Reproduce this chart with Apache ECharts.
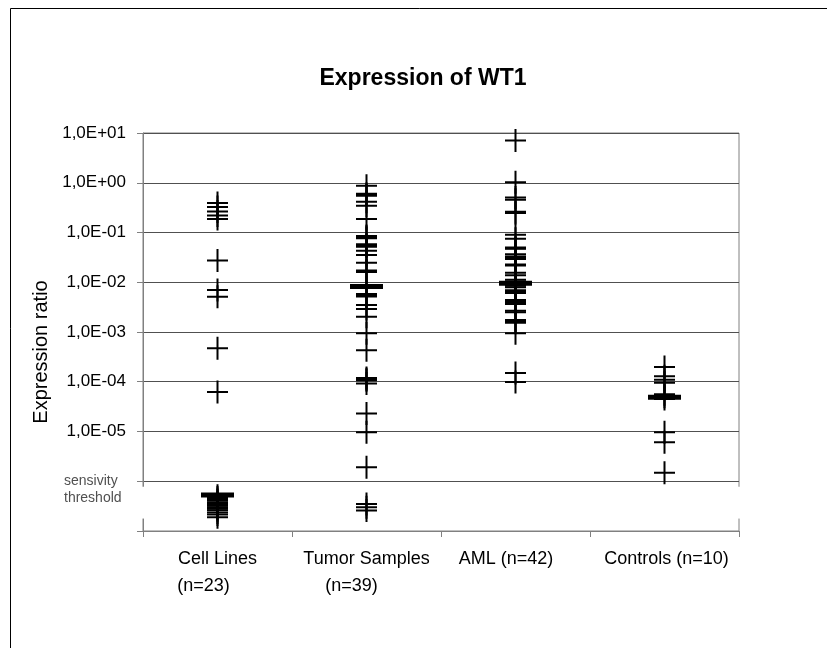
<!DOCTYPE html>
<html>
<head>
<meta charset="utf-8">
<title>Expression of WT1</title>
<script src="https://cdn.jsdelivr.net/npm/echarts@6/dist/echarts.min.js"></script>
<style>
  html, body { margin: 0; padding: 0; background: #fff; }
  #chart { width: 827px; height: 648px; }
</style>
</head>
<body>
<div id="chart"></div>
<script>
const categories = ["Cell Lines", "Tumor Samples", "AML", "Controls"];
const sampleCounts = [23, 39, 42, 10];

// values (expression ratio)
const cellLines = [
  0.39, 0.325, 0.265, 0.22, 0.186, 0.0273, 0.0070, 0.0051, 4.7e-4, 6.2e-5,
  5.1e-7, 4.7e-7, 4.4e-7, 4.1e-7, 3.8e-7, 3.5e-7, 3.2e-7, 3.0e-7, 2.8e-7,
  2.6e-7, 2.35e-7, 2.15e-7, 1.9e-7
];
const tumorSamples = [
  0.875, 0.60, 0.57, 0.55, 0.416, 0.345, 0.186, 0.085, 0.081, 0.077,
  0.058, 0.055, 0.052, 0.0428, 0.0355, 0.0248, 0.0172, 0.0166, 0.016, 0.0086,
  0.0079, 0.0058, 0.0055, 0.0052, 0.00348, 0.0029, 0.00202, 9.4e-4, 4.3e-4, 1.19e-4,
  1.12e-4, 1.07e-4, 9.2e-5, 2.29e-5, 9.7e-6, 1.91e-6, 3.5e-7, 3.0e-7, 2.57e-7
];
const aml = [
  7.06, 1.02, 0.506, 0.456, 0.26, 0.248, 0.09, 0.0746, 0.05, 0.0484,
  0.047, 0.0366, 0.0328, 0.031, 0.0295, 0.0228, 0.0223, 0.0218, 0.0156, 0.0138,
  0.0112, 0.0103, 0.0098, 0.0093, 0.0089, 0.0085, 0.0079, 0.0069, 0.0067, 0.0065,
  0.0061, 0.0044, 0.0040, 0.00365, 0.00267, 0.0025, 0.00174, 0.00162, 0.00153, 9.4e-4,
  1.5e-4, 9.9e-5
];
const controls = [1.99e-4, 1.29e-4, 1.1e-4, 9.5e-5, 5.6e-5, 5.0e-5, 4.5e-5, 9.7e-6, 6.1e-6, 1.48e-6];
const medians = [5.3e-7, 0.0082, 0.0096, 4.9e-5];

const groups = [cellLines, tumorSamples, aml, controls];

// plus marker, 21 x 23 px with 2 px strokes
const plusPath = "path://M0,10.5H21V12.5H0Z M9.5,0H11.5V23H9.5Z";

function formatExpLabel(value) {
  const exp = Math.round(Math.log10(value));
  if (exp === -6) {
    return "{e| }\n{t|sensivity}\n{t|threshold}";
  }
  if (exp < -6) {
    return "";
  }
  const abs = Math.abs(exp);
  return "1,0E" + (exp < 0 ? "-" : "+") + (abs < 10 ? "0" : "") + abs;
}

// small nudges so the wrapped category labels sit like the original
const labelStyles = ["c0", "c1", "c2", "c3"];
function formatCategory(name, index) {
  const n = "(n=" + sampleCounts[index] + ")";
  if (index < 2) {
    return "{a|" + name + "}\n{" + labelStyles[index] + "|" + n + "}";
  }
  return "{" + labelStyles[index] + "|" + name + " " + n + "}";
}

const chart = echarts.init(document.getElementById("chart"), null, { renderer: "canvas" });

const pointData = [];
groups.forEach((values, i) => {
  values.forEach((v) => pointData.push([i, v]));
});

const textBase = { fontFamily: "Liberation Sans, Arial, sans-serif", color: "#000" };

chart.setOption({
  animation: false,
  backgroundColor: "#fff",
  title: {
    text: "Expression of WT1",
    left: 418,
    top: 62,
    textAlign: "center",
    textStyle: { ...textBase, fontSize: 23, fontWeight: "bold" },
  },
  grid: {
    left: 143,
    right: 88,
    top: 133,
    bottom: 117,
    show: true,
    borderColor: "#808080",
    borderWidth: 1,
  },
  xAxis: {
    type: "category",
    data: categories,
    boundaryGap: true,
    axisLine: { lineStyle: { color: "#808080", width: 1 } },
    axisTick: { show: true, length: 6, lineStyle: { color: "#808080" } },
    axisLabel: {
      interval: 0,
      margin: 15,
      formatter: formatCategory,
      rich: {
        a: { ...textBase, fontSize: 18, lineHeight: 27 },
        c0: { ...textBase, fontSize: 18, lineHeight: 27, padding: [0, 28, 0, 0] },
        c1: { ...textBase, fontSize: 18, lineHeight: 27, padding: [0, 30, 0, 0] },
        c2: { ...textBase, fontSize: 18, lineHeight: 27, padding: [0, 19, 0, 0] },
        c3: { ...textBase, fontSize: 18, lineHeight: 27, padding: [0, 0, 0, 4] },
      },
    },
    splitLine: { show: false },
  },
  yAxis: {
    type: "log",
    logBase: 10,
    min: 1e-7,
    max: 10,
    interval: 1,
    name: "Expression ratio",
    nameLocation: "middle",
    nameGap: 83,
    nameRotate: 90,
    nameTextStyle: { ...textBase, fontSize: 20, padding: [0, 40, 0, 0] },
    axisLine: { show: true, lineStyle: { color: "#808080", width: 1 } },
    axisTick: { show: true, inside: false, length: 6, lineStyle: { color: "#808080" } },
    axisLabel: {
      ...textBase,
      fontSize: 17,
      margin: 17,
      showMinLabel: true,
      showMaxLabel: true,
      formatter: formatExpLabel,
      rich: {
        e: { fontSize: 14, lineHeight: 17 },
        t: {
          fontFamily: textBase.fontFamily,
          fontSize: 14,
          lineHeight: 17,
          color: "#505050",
          width: 62,
          align: "left",
        },
      },
    },
    splitLine: { show: true, lineStyle: { color: "#505050", width: 1 } },
  },
  series: [
    {
      name: "samples",
      type: "scatter",
      data: pointData,
      symbol: plusPath,
      symbolSize: [21, 23],
      itemStyle: { color: "#000", opacity: 1 },
      emphasis: { disabled: true },
      silent: true,
    },
    {
      name: "median",
      type: "scatter",
      data: medians.map((v, i) => [i, v]),
      symbol: "rect",
      symbolSize: [33, 5],
      itemStyle: { color: "#000", opacity: 1 },
      emphasis: { disabled: true },
      silent: true,
      z: 3,
    },
  ],
});

// axis break between the threshold line and the "below threshold" band
const gapTop = chart.convertToPixel({ yAxisIndex: 0 }, Math.pow(10, -6.11));
const gapBottom = chart.convertToPixel({ yAxisIndex: 0 }, Math.pow(10, -6.75));
const leftX = chart.convertToPixel({ xAxisIndex: 0 }, 0) - 74.5;
const rightX = chart.convertToPixel({ xAxisIndex: 0 }, 3) + 74.5;

chart.setOption({
  graphic: [
    {
      type: "rect",
      shape: { x: 10.5, y: 8.5, width: 1000, height: 1000 },
      style: { fill: "none", stroke: "#000", lineWidth: 1 },
      silent: true,
    },
    {
      type: "rect",
      shape: { x: leftX - 2, y: gapTop, width: 4, height: gapBottom - gapTop },
      style: { fill: "#fff" },
      silent: true,
      z: 10,
    },
    {
      type: "rect",
      shape: { x: rightX - 2, y: gapTop, width: 4, height: gapBottom - gapTop },
      style: { fill: "#fff" },
      silent: true,
      z: 10,
    },
  ],
});
</script>
</body>
</html>
